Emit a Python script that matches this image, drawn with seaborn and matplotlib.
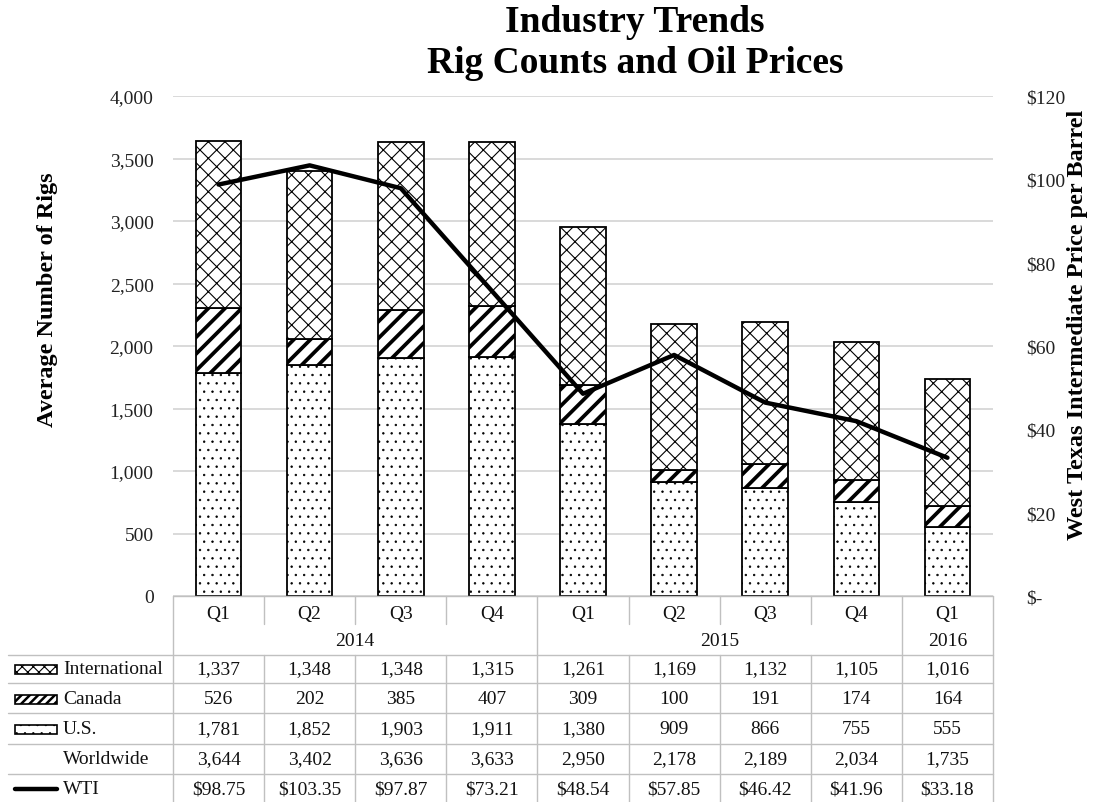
import numpy as np
import seaborn as sns
import matplotlib.pyplot as plt
from matplotlib.patches import Rectangle
from matplotlib.lines import Line2D
from matplotlib.ticker import FuncFormatter

sns.set_theme(style="white")
plt.rcParams['font.family'] = ['Liberation Serif', 'DejaVu Serif']
plt.rcParams['text.color'] = '#111111'

# Data
quarters = ["Q1", "Q2", "Q3", "Q4", "Q1", "Q2", "Q3", "Q4", "Q1"]
years = ["2014", "2014", "2014", "2014", "2015", "2015", "2015", "2015", "2016"]
periods = [q + " " + y for q, y in zip(quarters, years)]
international = [1337, 1348, 1348, 1315, 1261, 1169, 1132, 1105, 1016]
canada = [526, 202, 385, 407, 309, 100, 191, 174, 164]
us = [1781, 1852, 1903, 1911, 1380, 909, 866, 755, 555]
worldwide = [3644, 3402, 3636, 3633, 2950, 2178, 2189, 2034, 1735]
wti = [98.75, 103.35, 97.87, 73.21, 48.54, 57.85, 46.42, 41.96, 33.18]

W, H = 1093, 803
fig = plt.figure(figsize=(W / 100, H / 100), dpi=100)
x0, x1, y0, y1 = 173, 993, 597, 97
ax = fig.add_axes([x0 / W, 1 - y0 / H, (x1 - x0) / W, (y0 - y1) / H])

grid_c = "#d9d9d9"
line_c = "#c0c0c0"

# Stacked bars: U.S. at the bottom, then Canada, then International
layers = [
    (us, np.zeros(len(us)), "..", 0.5),
    (canada, np.array(us), "//", 2.7),
    (international, np.array(us) + np.array(canada), "xx", 0.8),
]
for vals, base, hatch, hlw in layers:
    n_before = len(ax.patches)
    with plt.rc_context({"hatch.linewidth": hlw}):
        sns.barplot(x=periods, y=vals, bottom=base, color="white", saturation=1,
                    edgecolor="black", linewidth=1.3, hatch=hatch, width=0.5,
                    errorbar=None, ax=ax, zorder=2)
    for p in ax.patches[n_before:]:
        if hasattr(p, "set_hatch_linewidth"):
            p.set_hatch_linewidth(hlw)

ax.set_xlim(-0.5, len(periods) - 0.5)
ax.set_ylim(0, 4000)
ax.set_yticks(np.arange(0, 4001, 500))
ax.yaxis.set_major_formatter(FuncFormatter(lambda v, p: f"{int(v):,}"))
ax.set_xticks([])
ax.set_xlabel("")
ax.set_ylabel("")
ax.yaxis.grid(True, color=grid_c, lw=1.4)
ax.set_axisbelow(True)
ax.tick_params(axis="y", length=0, pad=14, labelsize=14, colors="#222222")
for s in ax.spines.values():
    s.set_visible(False)

# WTI price line on the secondary axis
tw = ax.twinx()
sns.lineplot(x=np.arange(len(wti)), y=wti, color="black", lw=3.2, ax=tw, zorder=5)
tw.set_xlim(-0.5, len(periods) - 0.5)
tw.set_ylim(0, 120)
tw.set_yticks(np.arange(0, 121, 20))
tw.yaxis.set_major_formatter(FuncFormatter(lambda v, p: "$-" if v == 0 else f"${int(v)}"))
tw.tick_params(axis="y", length=0, pad=24, labelsize=14, colors="#222222")
tw.set_ylabel("")
for s in tw.spines.values():
    s.set_visible(False)

# Titles and axis labels
fig.text(635 / W, 1 - 32 / H, "Industry Trends", ha="center", va="baseline",
         fontsize=27, fontweight="bold", color="black")
fig.text(635 / W, 1 - 73 / H, "Rig Counts and Oil Prices", ha="center", va="baseline",
         fontsize=27, fontweight="bold", color="black")
fig.text(48 / W, 1 - 300 / H, "Average Number of Rigs", rotation=90, ha="center",
         va="center", fontsize=17.5, fontweight="bold", color="black")
fig.text(1077 / W, 1 - 325 / H, "West Texas Intermediate Price per Barrel", rotation=90,
         ha="center", va="center", fontsize=17.5, fontweight="bold", color="black")

# Data table under the chart
tab = fig.add_axes([x0 / W, 0, (x1 - x0) / W, (H - y0) / H])
tab.set_xlim(-0.5, len(periods) - 0.5)
tab.set_ylim(H - y0, 0)
tab.axis("off")
colw = (x1 - x0) / len(periods)
xl = (8 - x0) / colw - 0.5

def hline(y, xa, xb):
    tab.add_line(Line2D([xa, xb], [y, y], color=line_c, lw=1, clip_on=False))

def vline(x, ya, yb):
    tab.add_line(Line2D([x, x], [ya, yb], color=line_c, lw=1, clip_on=False))

n = len(periods)
hline(0, -0.5, n - 0.5)
row_lines = [59, 87, 117, 148, 178]
for y in row_lines:
    hline(y, xl, n - 0.5)
vline(-0.5, 0, H - y0)
vline(n - 0.5, 0, H - y0)
for i in range(n - 1):
    if years[i] != years[i + 1]:
        vline(i + 0.5, 0, H - y0)
    else:
        vline(i + 0.5, 0, 28)
        vline(i + 0.5, 59, H - y0)

fs = 14
for i, q in enumerate(quarters):
    tab.text(i, 18, q, ha="center", va="center", fontsize=fs)
for yr in dict.fromkeys(years):
    idx = [i for i, y in enumerate(years) if y == yr]
    tab.text(np.mean(idx), 45, yr, ha="center", va="center", fontsize=fs)

rows = [
    ("International", international, lambda v: f"{v:,}", 73),
    ("Canada", canada, lambda v: f"{v:,}", 103),
    ("U.S.", us, lambda v: f"{v:,}", 133),
    ("Worldwide", worldwide, lambda v: f"{v:,}", 163),
    ("WTI", wti, lambda v: f"${v:.2f}", 193),
]
lab_x = (63 - x0) / colw - 0.5
sw_a = (15 - x0) / colw - 0.5
sw_b = (57 - x0) / colw - 0.5
for name, vals, fmt, y in rows:
    tab.text(lab_x, y, name, ha="left", va="center", fontsize=fs)
    for i, v in enumerate(vals):
        tab.text(i, y, fmt(v), ha="center", va="center", fontsize=fs)

swatches = {"International": ("xxx", 0.8), "Canada": ("////", 1.8), "U.S.": ("..", 0.5)}
for name, vals, fmt, y in rows:
    if name in swatches:
        h, hlw = swatches[name]
        with plt.rc_context({"hatch.linewidth": hlw}):
            r = Rectangle((sw_a, y - 4.5), sw_b - sw_a, 9, facecolor="white",
                          edgecolor="black", lw=1.2, hatch=h, clip_on=False)
        if hasattr(r, "set_hatch_linewidth"):
            r.set_hatch_linewidth(hlw)
        tab.add_patch(r)
    elif name == "WTI":
        tab.add_line(Line2D([sw_a, sw_b], [y, y], color="black", lw=3.2, clip_on=False))

fig.savefig("out.png", dpi=100, facecolor="white")
